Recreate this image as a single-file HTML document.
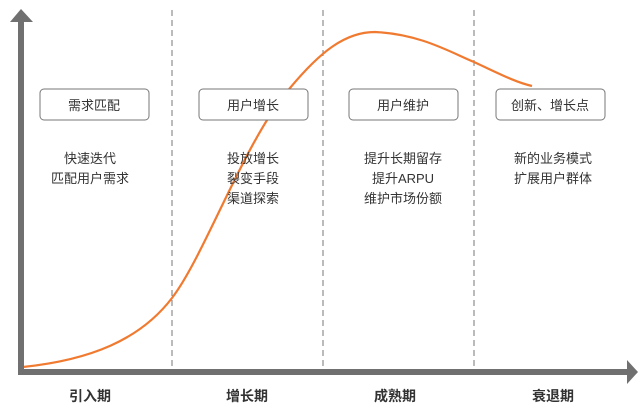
<!DOCTYPE html>
<html><head><meta charset="utf-8"><style>
body{margin:0;background:#fff;}
svg text{font-family:"Liberation Sans","Noto Sans CJK SC",sans-serif;fill:#333;}
</style></head><body>
<svg width="642" height="413" viewBox="0 0 642 413" xmlns="http://www.w3.org/2000/svg">
<g stroke="#777" stroke-width="1" stroke-dasharray="6,4">
<line x1="172" y1="10" x2="172" y2="368"/>
<line x1="323" y1="10" x2="323" y2="368"/>
<line x1="474" y1="10" x2="474" y2="368"/>
</g>
<path d="M23,367 C90,360 140,340 172,298 C205,255 245,140 290,88 C320,52 345,32 375,32 C420,34 450,52 474,62 C500,74 515,82 532,86" fill="none" stroke="#f07a30" stroke-width="2.2"/>
<rect x="18" y="18" width="6" height="356" fill="#707070"/>
<polygon points="10,22 21,9 33,22" fill="#707070"/>
<rect x="18" y="369" width="612" height="6" fill="#707070"/>
<polygon points="627,360 638,372 627,384" fill="#707070"/>
<g fill="#fff" stroke="#777" stroke-width="1">
<rect x="40" y="89" width="109" height="31" rx="4"/>
<rect x="199" y="89" width="109" height="31" rx="4"/>
<rect x="349" y="89" width="109" height="31" rx="4"/>
<rect x="496" y="89" width="109" height="31" rx="4"/>
</g>
<g font-size="13" text-anchor="middle">
<text x="94" y="110">需求匹配</text>
<text x="253" y="110">用户增长</text>
<text x="403" y="110">用户维护</text>
<text x="550" y="110">创新、增长点</text>
<text x="90" y="163">快速迭代</text>
<text x="90" y="183">匹配用户需求</text>
<text x="253" y="163">投放增长</text>
<text x="253" y="183">裂变手段</text>
<text x="253" y="203">渠道探索</text>
<text x="403" y="163">提升长期留存</text>
<text x="403" y="183">提升ARPU</text>
<text x="403" y="203">维护市场份额</text>
<text x="553" y="163">新的业务模式</text>
<text x="553" y="183">扩展用户群体</text>
</g>
<g font-size="14" font-weight="bold" text-anchor="middle">
<text x="90" y="401">引入期</text>
<text x="247" y="401">增长期</text>
<text x="395" y="401">成熟期</text>
<text x="553" y="401">衰退期</text>
</g>
</svg>
</body></html>
